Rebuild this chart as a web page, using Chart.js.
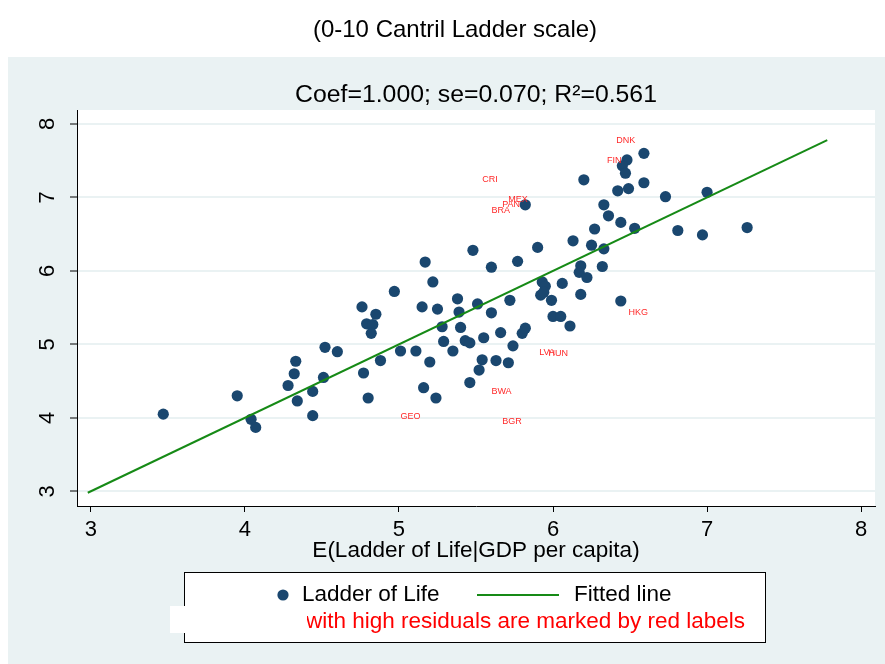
<!DOCTYPE html>
<html>
<head>
<meta charset="utf-8">
<title>Ladder of Life vs expected ladder from GDP</title>
<script src="https://cdn.jsdelivr.net/npm/chart.js@4.4.1/dist/chart.umd.min.js"></script>
<style>
  html, body { margin: 0; padding: 0; background: #fff; }
  #chart { display: block; }
</style>
</head>
<body>
<canvas id="chart" width="885" height="664"></canvas>
<script>
// E(ladder | GDP per capita) and the actual ladder score, one pair per country
const expectedLadder = [
  3.47, 3.95, 4.04, 4.07, 4.33, 4.32, 4.28, 4.34, 4.44, 4.44,
  4.51, 4.52, 4.60, 4.76, 4.85, 4.79, 4.83, 4.82, 4.77, 4.80,
  4.88, 4.97, 5.01, 5.11, 5.20, 5.15, 5.25, 5.22, 5.17, 5.38,
  5.39, 5.28, 5.40, 5.29, 5.43, 5.46, 5.35, 5.16, 5.24, 5.46,
  5.51, 5.48, 5.60, 5.77, 5.90, 6.13, 5.60, 5.72, 5.93, 5.95,
  5.92, 5.94, 6.06, 6.18, 5.99, 6.44, 6.00, 6.05, 6.11, 5.55,
  5.66, 5.80, 5.82, 5.74, 5.54, 5.63, 5.71, 5.52, 6.18, 6.17,
  6.22, 6.32, 6.25, 6.33, 6.27, 6.53, 6.81, 6.97, 7.26, 6.33,
  6.36, 6.44, 6.20, 6.42, 6.49, 6.59, 6.73, 7.00, 6.59, 6.48,
  6.45, 6.47, 5.82
];
const ladder = [
  4.05, 4.30, 3.98, 3.87, 4.77, 4.60, 4.44, 4.23, 4.03, 4.36,
  4.55, 4.96, 4.90, 5.51, 5.41, 5.28, 5.27, 5.15, 4.61, 4.27,
  4.78, 5.72, 4.91, 4.91, 4.76, 5.51, 5.48, 5.85, 6.12, 5.62,
  5.44, 5.24, 5.23, 5.04, 5.05, 5.02, 4.91, 4.41, 4.27, 4.48,
  5.55, 6.28, 6.05, 6.13, 6.32, 6.41, 5.43, 5.60, 5.85, 5.79,
  5.67, 5.71, 5.83, 5.68, 5.60, 5.59, 5.38, 5.38, 5.25, 5.09,
  5.16, 5.15, 5.22, 4.98, 4.79, 4.78, 4.75, 4.65, 6.07, 5.98,
  5.91, 6.06, 6.35, 6.30, 6.57, 6.58, 6.55, 6.49, 6.59, 6.90,
  6.75, 6.66, 7.24, 7.09, 7.12, 7.20, 7.01, 7.07, 7.60, 7.51,
  7.43, 7.33, 6.90
];

// countries with high residuals (label anchor positions)
const residCodes = ["DNK", "FIN", "CRI", "MEX", "PAN", "BRA", "HKG", "LVA", "HUN", "BWA", "BGR", "GEO"];
const residX = [6.41, 6.35, 5.54, 5.71, 5.67, 5.60, 6.49, 5.91, 5.97, 5.60, 5.67, 5.01];
const residY = [7.77, 7.50, 7.24, 6.97, 6.90, 6.82, 5.44, 4.89, 4.88, 4.36, 3.95, 4.02];

// fitted line (coef 1.000)
const fitX = [2.98, 7.78];
const fitY = [2.98, 7.78];

const xTicks = [3, 4, 5, 6, 7, 8];
const yTicks = [3, 4, 5, 6, 7, 8];

const FONT = '"Liberation Sans", Arial, Helvetica, sans-serif';
const PANEL = '#eaf2f3';
const NAVY = '#1a476f';
const GREEN = '#168a16';

// background, plot region and the two titles
const backdrop = {
  id: 'backdrop',
  beforeDraw(chart) {
    const { ctx, chartArea: a } = chart;
    ctx.save();
    ctx.fillStyle = '#fff';
    ctx.fillRect(0, 0, chart.width, chart.height);
    ctx.fillStyle = PANEL;
    ctx.fillRect(8, 57, chart.width - 8, chart.height - 57);
    ctx.fillStyle = '#fff';
    ctx.fillRect(a.left, a.top, a.right - a.left, a.bottom - a.top);

    ctx.fillStyle = '#000';
    ctx.textAlign = 'center';
    ctx.textBaseline = 'middle';
    ctx.font = '24px ' + FONT;
    ctx.fillText('(0-10 Cantril Ladder scale)', 455, 30);
    ctx.font = '24.8px ' + FONT;
    ctx.fillText('Coef=1.000; se=0.070; R\u00b2=0.561', (a.left + a.right) / 2, 95);
    ctx.restore();
  }
};

// red country codes at the invisible label markers
const redLabels = {
  id: 'redLabels',
  afterDatasetsDraw(chart) {
    const { ctx } = chart;
    const meta = chart.getDatasetMeta(2);
    ctx.save();
    ctx.fillStyle = '#ff2a2a';
    ctx.font = '9px ' + FONT;
    ctx.textAlign = 'left';
    ctx.textBaseline = 'middle';
    meta.data.forEach((pt, i) => {
      ctx.fillText(residCodes[i], pt.x, pt.y);
    });
    ctx.restore();
  }
};

// stata-style legend box under the axis
const legendBox = {
  id: 'legendBox',
  afterDraw(chart) {
    const { ctx } = chart;
    ctx.save();
    ctx.fillStyle = '#fff';
    ctx.fillRect(184, 573, 581, 69);
    ctx.strokeStyle = '#000';
    ctx.lineWidth = 1;
    ctx.strokeRect(184.5, 572.5, 581, 70);

    ctx.fillStyle = NAVY;
    ctx.beginPath();
    ctx.arc(283, 595, 5.6, 0, Math.PI * 2);
    ctx.fill();

    ctx.strokeStyle = GREEN;
    ctx.lineWidth = 2;
    ctx.beginPath();
    ctx.moveTo(477, 595);
    ctx.lineTo(559, 595);
    ctx.stroke();

    ctx.font = '22.5px ' + FONT;
    ctx.textBaseline = 'middle';
    ctx.textAlign = 'left';
    ctx.fillStyle = '#000';
    ctx.fillText('Ladder of Life', 302, 595);
    ctx.fillText('Fitted line', 574, 595);

    ctx.fillStyle = '#ff0000';
    ctx.textAlign = 'right';
    ctx.fillText('Countries with high residuals are marked by red labels', 745, 622);

    // white patch that hides the start of the note
    ctx.fillStyle = '#fff';
    ctx.fillRect(170, 606, 137, 27);
    ctx.restore();
  }
};

const points = expectedLadder.map((x, i) => ({ x: x, y: ladder[i] }));
const fitPts = fitX.map((x, i) => ({ x: x, y: fitY[i] }));
const labelPts = residX.map((x, i) => ({ x: x, y: residY[i] }));

new Chart(document.getElementById('chart'), {
  type: 'scatter',
  data: {
    datasets: [
      {
        label: 'Ladder of Life',
        data: points,
        backgroundColor: NAVY,
        borderColor: NAVY,
        borderWidth: 0,
        pointRadius: 5.6,
        order: 2
      },
      {
        label: 'Fitted line',
        type: 'line',
        data: fitPts,
        borderColor: GREEN,
        borderWidth: 2,
        pointRadius: 0,
        fill: false,
        order: 1
      },
      {
        label: 'labels',
        data: labelPts,
        pointRadius: 0,
        order: 3
      }
    ]
  },
  options: {
    responsive: false,
    animation: false,
    devicePixelRatio: 1,
    layout: { padding: { top: 110, right: 10, bottom: 98, left: 0 } },
    plugins: {
      legend: { display: false },
      tooltip: { enabled: false },
      title: { display: false }
    },
    scales: {
      x: {
        type: 'linear',
        min: 2.91,
        max: 8.09,
        afterBuildTicks: s => { s.ticks = xTicks.map(v => ({ value: v })); },
        afterFit: s => { s.height = 60; },
        grid: { drawOnChartArea: false, drawTicks: true, tickLength: 6, tickColor: '#000', tickWidth: 1 },
        border: { display: true, color: '#000', width: 1 },
        ticks: { color: '#000', padding: 5, font: { family: FONT, size: 22 }, callback: v => v },
        title: {
          display: true,
          text: 'E(Ladder of Life|GDP per capita)',
          color: '#000',
          font: { family: FONT, size: 22.5 },
          padding: { top: 0, bottom: 1.5 }
        }
      },
      y: {
        type: 'linear',
        min: 2.8,
        max: 8.19,
        afterBuildTicks: s => { s.ticks = yTicks.map(v => ({ value: v })); },
        afterFit: s => { s.width = 77; },
        grid: { color: PANEL, lineWidth: 2, drawTicks: true, tickLength: 7, tickColor: '#000', tickWidth: 1 },
        border: { display: true, color: '#000', width: 1 },
        ticks: {
          color: '#000',
          minRotation: 90,
          maxRotation: 90,
          crossAlign: 'center',
          padding: 16,
          font: { family: FONT, size: 22 },
          callback: v => v
        }
      }
    }
  },
  plugins: [backdrop, redLabels, legendBox]
});
</script>
</body>
</html>
